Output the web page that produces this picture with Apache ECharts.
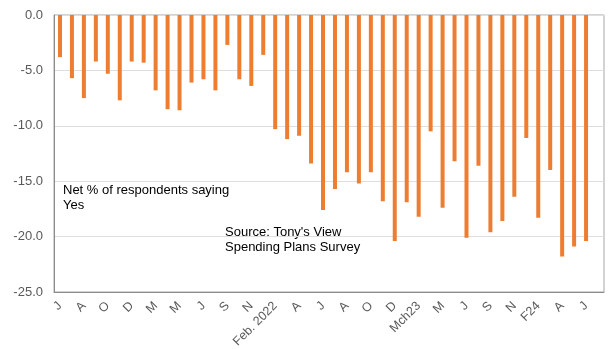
<!DOCTYPE html>
<html>
<head>
<meta charset="utf-8">
<script src="https://cdn.jsdelivr.net/npm/echarts@6/dist/echarts.min.js"></script>
<style>
  html, body { margin: 0; padding: 0; background: #fff; }
  #chart { width: 609px; height: 349px; }
</style>
</head>
<body>
<div id="chart"></div>
<script>
// Tick labels on every second month (last slot is empty)
const tickLabels = ['J','A','O','D','M','M','J','S','N','Feb. 2022','A','J','A','O','D','Mch23','M','J','S','N','F24','A','J'];

// Net % of respondents saying Yes, one value per survey month
const values = [
  -3.8, -5.7, -7.5, -4.2, -5.3, -7.7, -4.2, -4.3, -6.8, -8.5,
  -8.6, -6.1, -5.8, -6.8, -2.7, -5.8, -6.4, -3.6, -10.3, -11.2,
  -10.9, -13.4, -17.6, -15.7, -14.2, -15.2, -14.2, -16.8, -20.4, -16.9,
  -18.2, -10.5, -17.4, -13.2, -20.1, -13.6, -19.6, -18.6, -16.4, -11.1,
  -18.3, -14.0, -21.8, -20.9, -20.4, null
];

const yTicks = [0, -5, -10, -15, -20, -25];

// categories: labelled month followed by an unlabelled month
const categories = [];
tickLabels.forEach(function (t, i) { categories.push(t); categories.push(''); });

const chart = echarts.init(document.getElementById('chart'), null, { renderer: 'canvas' });
chart.setOption({
  animation: false,
  backgroundColor: '#ffffff',
  textStyle: { fontFamily: 'Liberation Sans, Arial, sans-serif' },
  grid: {
    left: 54, right: 5, top: 15, bottom: 57,
    containLabel: false,
    outerBoundsMode: 'none',
    show: true, borderColor: '#a6a6a6', borderWidth: 1
  },
  xAxis: {
    type: 'category',
    data: categories,
    boundaryGap: true,
    axisLine: { onZero: false, lineStyle: { color: '#8c8c8c' } },
    axisTick: { show: false },
    axisLabel: {
      interval: 1,
      rotate: 45,
      margin: 12,
      color: '#595959',
      fontSize: 12.5,
      fontFamily: 'Liberation Sans, Arial, sans-serif'
    },
    splitLine: { show: false }
  },
  yAxis: {
    type: 'value',
    min: yTicks[yTicks.length - 1],
    max: yTicks[0],
    interval: 5,
    axisLine: { show: true, lineStyle: { color: '#8c8c8c' } },
    axisTick: { show: false },
    axisLabel: {
      color: '#595959',
      fontSize: 13,
      margin: 11,
      fontFamily: 'Liberation Sans, Arial, sans-serif',
      formatter: function (v) { return v.toFixed(1); }
    },
    splitLine: { show: true, lineStyle: { color: '#dedede', width: 1 } }
  },
  series: [{
    type: 'bar',
    data: values,
    barWidth: 4,
    itemStyle: { color: '#ED7D31' }
  }],
  graphic: [
    {
      type: 'text', left: 63, top: 183,
      style: {
        text: 'Net % of respondents saying\nYes',
        fill: '#000', fontSize: 13, lineHeight: 15,
        fontFamily: 'Liberation Sans, Arial, sans-serif'
      }
    },
    {
      type: 'text', left: 225, top: 225,
      style: {
        text: "Source: Tony's View\nSpending Plans Survey",
        fill: '#000', fontSize: 13, lineHeight: 15,
        fontFamily: 'Liberation Sans, Arial, sans-serif'
      }
    }
  ]
});
</script>
</body>
</html>
